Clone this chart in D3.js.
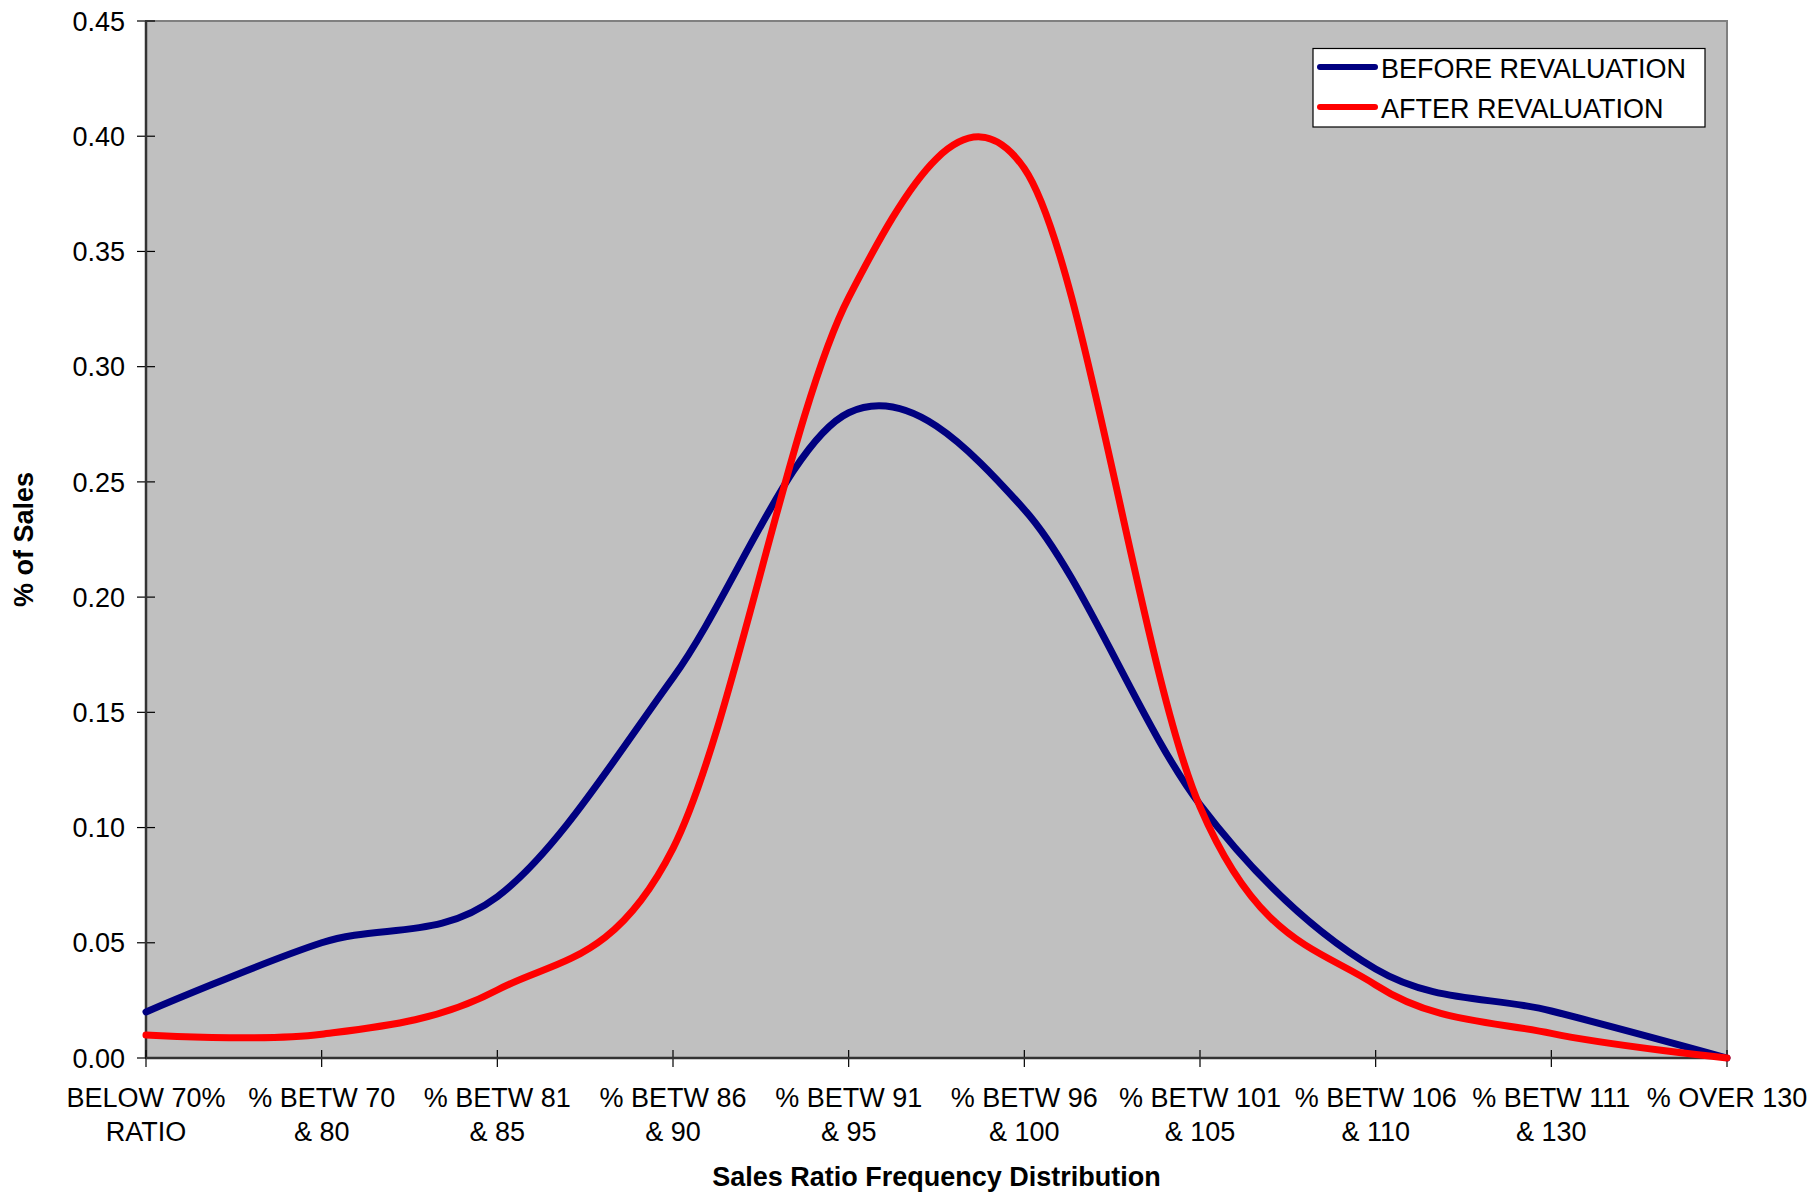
<!DOCTYPE html>
<html>
<head>
<meta charset="utf-8">
<script src="https://cdn.jsdelivr.net/npm/d3@7"></script>
<style>
  body { margin: 0; background: #ffffff; }
  svg { display: block; font-family: "Liberation Sans", Arial, sans-serif; }
</style>
</head>
<body>
<div class="chart"></div>
<script>
// Categories on the x-axis (each label split over two lines).
const categories = [
  ["BELOW 70%", "RATIO"],
  ["% BETW 70", "& 80"],
  ["% BETW 81", "& 85"],
  ["% BETW 86", "& 90"],
  ["% BETW 91", "& 95"],
  ["% BETW 96", "& 100"],
  ["% BETW 101", "& 105"],
  ["% BETW 106", "& 110"],
  ["% BETW 111", "& 130"],
  ["% OVER 130"]
];
// Share of sales in each ratio band.
const beforeValues = [0.020, 0.050, 0.070, 0.165, 0.280, 0.238, 0.110, 0.0386, 0.0204, 0.0];
const afterValues  = [0.010, 0.0103, 0.0295, 0.091, 0.330, 0.386, 0.109, 0.0317, 0.0107, 0.0];
const yTicks = [0, 0.05, 0.10, 0.15, 0.20, 0.25, 0.30, 0.35, 0.40, 0.45];
const seriesNames = ["BEFORE REVALUATION", "AFTER REVALUATION"];
const seriesColors = ["#000080", "#ff0000"];

const width = 1813, height = 1192;
// Plot area in pixels.
const plot = { left: 146, top: 21, right: 1727, bottom: 1058 };
const fontSize = 27;

const svg = d3.select(".chart")
  .append("svg")
  .attr("width", width)
  .attr("height", height)
  .attr("viewBox", [0, 0, width, height]);

// Scales.
const x = d3.scalePoint()
  .domain(d3.range(categories.length))
  .range([plot.left, plot.right]);
const y = d3.scaleLinear()
  .domain([0, 0.45])
  .range([plot.bottom, plot.top]);

// Grey plot background with the thin grey frame.
svg.append("rect")
  .attr("x", plot.left)
  .attr("y", plot.top)
  .attr("width", plot.right - plot.left)
  .attr("height", plot.bottom - plot.top)
  .attr("fill", "#c0c0c0")
  .attr("stroke", "#808080")
  .attr("stroke-width", 2);

// Y axis: ticks cross the axis line.
yTicks.forEach(t => {
  svg.append("line")
    .attr("x1", plot.left - 9)
    .attr("x2", plot.left + 9)
    .attr("y1", y(t))
    .attr("y2", y(t))
    .attr("stroke", "#000")
    .attr("stroke-width", 1.2);
  svg.append("text")
    .attr("x", plot.left - 21)
    .attr("y", y(t))
    .attr("dy", "0.36em")
    .attr("text-anchor", "end")
    .attr("font-size", fontSize)
    .text(t.toFixed(2));
});
svg.append("line")
  .attr("x1", plot.left)
  .attr("x2", plot.left)
  .attr("y1", plot.top)
  .attr("y2", plot.bottom)
  .attr("stroke", "#333")
  .attr("stroke-width", 2.5);

// X axis with ticks at each category.
categories.forEach((c, i) => {
  svg.append("line")
    .attr("x1", x(i))
    .attr("x2", x(i))
    .attr("y1", plot.bottom - 8)
    .attr("y2", plot.bottom + 9)
    .attr("stroke", "#000")
    .attr("stroke-width", 1.2);
  const label = svg.append("text")
    .attr("x", x(i))
    .attr("y", 1107)
    .attr("text-anchor", "middle")
    .attr("font-size", fontSize);
  c.forEach((line, j) => {
    label.append("tspan")
      .attr("x", x(i))
      .attr("dy", j === 0 ? 0 : 34)
      .text(line);
  });
});
svg.append("line")
  .attr("x1", plot.left)
  .attr("x2", plot.right)
  .attr("y1", plot.bottom)
  .attr("y2", plot.bottom)
  .attr("stroke", "#333")
  .attr("stroke-width", 2.5);

// Smoothed series lines (Excel style smoothing ~ uniform Catmull-Rom).
const line = d3.line()
  .x((d, i) => x(i))
  .y(d => y(d))
  .curve(d3.curveCardinal.tension(0));

[beforeValues, afterValues].forEach((values, k) => {
  svg.append("path")
    .datum(values)
    .attr("d", line)
    .attr("fill", "none")
    .attr("stroke", seriesColors[k])
    .attr("stroke-width", 7)
    .attr("stroke-linejoin", "round")
    .attr("stroke-linecap", "round");
});

// Axis titles.
svg.append("text")
  .attr("x", (plot.left + plot.right) / 2)
  .attr("y", 1186)
  .attr("text-anchor", "middle")
  .attr("font-size", fontSize)
  .attr("font-weight", "bold")
  .text("Sales Ratio Frequency Distribution");
svg.append("text")
  .attr("transform", `translate(33, ${(plot.top + plot.bottom) / 2}) rotate(-90)`)
  .attr("text-anchor", "middle")
  .attr("font-size", fontSize)
  .attr("font-weight", "bold")
  .text("% of Sales");

// Legend box.
const legend = svg.append("g");
legend.append("rect")
  .attr("x", 1313)
  .attr("y", 48.5)
  .attr("width", 392)
  .attr("height", 78.5)
  .attr("fill", "#ffffff")
  .attr("stroke", "#000")
  .attr("stroke-width", 1.2);
seriesNames.forEach((name, k) => {
  const ly = 67 + k * 40;
  legend.append("line")
    .attr("x1", 1320)
    .attr("x2", 1375)
    .attr("y1", ly)
    .attr("y2", ly)
    .attr("stroke", seriesColors[k])
    .attr("stroke-width", 6)
    .attr("stroke-linecap", "round");
  legend.append("text")
    .attr("x", 1381)
    .attr("y", ly + 1)
    .attr("dy", "0.36em")
    .attr("font-size", fontSize)
    .text(name);
});
</script>
</body>
</html>
